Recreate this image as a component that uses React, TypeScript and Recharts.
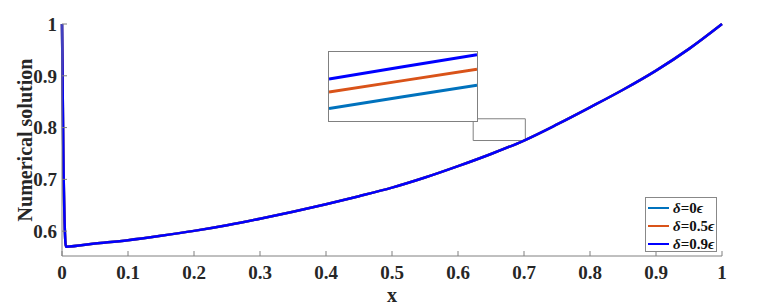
import { LineChart, Line, XAxis, YAxis, Legend, ReferenceArea } from "recharts";

// main curves (x, u); the three delta cases overlap at this scale
const xs = [0, 0.002, 0.006, 0.05, 0.1, 0.15, 0.2, 0.25, 0.3, 0.35, 0.4, 0.45, 0.5, 0.55, 0.6, 0.65, 0.7, 0.75, 0.8, 0.85, 0.9, 0.95, 1];
const delta0 = [1, 0.75, 0.57, 0.576, 0.5825, 0.591, 0.6005, 0.6115, 0.624, 0.6375, 0.652, 0.6675, 0.684, 0.7035, 0.7255, 0.749, 0.775, 0.806, 0.839, 0.873, 0.91, 0.952, 1];
const delta05 = [1, 0.75, 0.57, 0.576, 0.5825, 0.591, 0.6005, 0.6115, 0.624, 0.6375, 0.652, 0.6675, 0.684, 0.7035, 0.7255, 0.749, 0.775, 0.806, 0.839, 0.873, 0.91, 0.952, 1];
const delta09 = [1, 0.75, 0.57, 0.576, 0.5825, 0.591, 0.6005, 0.6115, 0.624, 0.6375, 0.652, 0.6675, 0.684, 0.7035, 0.7255, 0.749, 0.775, 0.806, 0.839, 0.873, 0.91, 0.952, 1];
const xTicks = [0, 0.1, 0.2, 0.3, 0.4, 0.5, 0.6, 0.7, 0.8, 0.9, 1];
const yTicks = [0.6, 0.7, 0.8, 0.9, 1];

// zoomed inset
const insetX = [0.625, 0.6625, 0.7];
const inset0 = [0.7718, 0.7735, 0.7752];
const inset05 = [0.7742, 0.77585, 0.7775];
const inset09 = [0.7761, 0.77785, 0.7796];

const data = xs.map((x, i) => ({ x, d0: delta0[i], d5: delta05[i], d9: delta09[i] }));
const insetData = insetX.map((x, i) => ({ x, d0: inset0[i], d5: inset05[i], d9: inset09[i] }));

const C0 = "#0072BD";
const C5 = "#D95319";
const C9 = "#0000FF";
const font = "'Liberation Serif', 'Times New Roman', serif";
const tickStyle = { fill: "#262626", fontSize: 19, fontWeight: 700, fontFamily: font };
const labelStyle = { fill: "#262626", fontSize: 20, fontWeight: 700, fontFamily: font };

function LegendBox() {
    const items = [
        { c: C0, v: "0" },
        { c: C5, v: "0.5" },
        { c: C9, v: "0.9" },
    ];
    return (
        <div style={{ width: 72, height: 55, border: "1px solid #888", background: "#fff", fontFamily: font, fontWeight: 700, fontSize: 15, color: "#111", boxSizing: "border-box", paddingTop: 1 }}>
            {items.map((it) => (
                <div key={it.v} style={{ display: "flex", alignItems: "center", height: 18 }}>
                    <span style={{ display: "inline-block", width: 21, height: 2, background: it.c, marginLeft: 2, marginRight: 4 }} />
                    <span>
                        <i>δ</i>={it.v}<i>ϵ</i>
                    </span>
                </div>
            ))}
        </div>
    );
}

export default function App() {
    return (
        <div style={{ position: "absolute", left: 0, top: 0, width: 760, height: 307, background: "#fff" }}>
            <LineChart width={760} height={307} data={data} margin={{ top: 24, right: 38, bottom: 0, left: 0 }}>
                <XAxis
                    dataKey="x"
                    type="number"
                    domain={[0, 1]}
                    ticks={xTicks}
                    height={51}
                    stroke="#808080"
                    tickSize={-5}
                    tickMargin={15}
                    tick={tickStyle}
                    label={{ value: "x", position: "insideBottom", offset: 5, style: labelStyle }}
                />
                <XAxis xAxisId="top" orientation="top" dataKey="x" type="number" domain={[0, 1]} ticks={xTicks} height={0} stroke="#808080" tickSize={-5} tickFormatter={() => ""} />
                <YAxis
                    type="number"
                    domain={[0.552, 1]}
                    ticks={yTicks}
                    width={62}
                    stroke="#808080"
                    tickSize={-5}
                    tickMargin={10}
                    tick={tickStyle}
                    label={{ value: "Numerical solution", angle: -90, position: "insideLeft", offset: 25, textAnchor: "middle", style: labelStyle }}
                />
                <YAxis yAxisId="right" orientation="right" type="number" domain={[0.552, 1]} ticks={yTicks} width={0} stroke="#808080" tickSize={-5} tickFormatter={() => ""} />
                <ReferenceArea x1={0.623} x2={0.702} y1={0.775} y2={0.817} fill="none" stroke="#808080" strokeWidth={1} />
                <Line dataKey="d0" type="monotone" stroke={C0} strokeWidth={2.5} dot={false} isAnimationActive={false} />
                <Line dataKey="d5" type="monotone" stroke={C5} strokeWidth={2.5} dot={false} isAnimationActive={false} />
                <Line dataKey="d9" type="monotone" stroke={C9} strokeWidth={2.5} dot={false} isAnimationActive={false} />
                <Legend layout="vertical" align="center" verticalAlign="middle" wrapperStyle={{ left: 645, top: 197, width: 72 }} content={() => <LegendBox />} />
            </LineChart>
            <div style={{ position: "absolute", left: 328, top: 51, width: 150, height: 71, border: "1px solid #808080", boxSizing: "border-box", background: "#fff" }}>
                <LineChart width={148} height={69} data={insetData} margin={{ top: 0, right: 0, bottom: 0, left: 0 }}>
                    <XAxis dataKey="x" type="number" domain={[0.625, 0.7]} hide />
                    <YAxis type="number" domain={[0.77, 0.78]} hide />
                    <Line dataKey="d0" type="linear" stroke={C0} strokeWidth={3} dot={false} isAnimationActive={false} />
                    <Line dataKey="d5" type="linear" stroke={C5} strokeWidth={3} dot={false} isAnimationActive={false} />
                    <Line dataKey="d9" type="linear" stroke={C9} strokeWidth={3} dot={false} isAnimationActive={false} />
                </LineChart>
            </div>
        </div>
    );
}
